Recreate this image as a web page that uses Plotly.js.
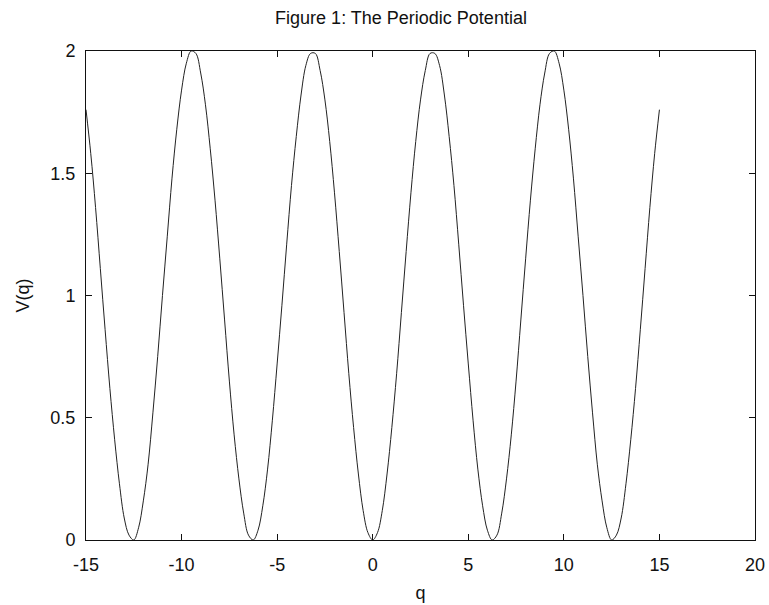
<!DOCTYPE html>
<html>
<head>
<meta charset="utf-8">
<script src="https://cdn.plot.ly/plotly-3.0.1.min.js"></script>
<style>
  html, body { margin: 0; padding: 0; background: #ffffff; }
  #chart { width: 769px; height: 605px; }
</style>
</head>
<body>
<div id="chart"></div>
<script>
// Sampled points of the periodic potential V(q), every 0.25 in q
const q = [
  -15, -14.75, -14.5, -14.25, -14, -13.75, -13.5, -13.25, -13, -12.75,
  -12.5, -12.25, -12, -11.75, -11.5, -11.25, -11, -10.75, -10.5, -10.25,
  -10, -9.75, -9.5, -9.25, -9, -8.75, -8.5, -8.25, -8, -7.75,
  -7.5, -7.25, -7, -6.75, -6.5, -6.25, -6, -5.75, -5.5, -5.25,
  -5, -4.75, -4.5, -4.25, -4, -3.75, -3.5, -3.25, -3, -2.75,
  -2.5, -2.25, -2, -1.75, -1.5, -1.25, -1, -0.75, -0.5, -0.25,
  0,
  0.25, 0.5, 0.75, 1, 1.25, 1.5, 1.75, 2, 2.25, 2.5,
  2.75, 3, 3.25, 3.5, 3.75, 4, 4.25, 4.5, 4.75, 5,
  5.25, 5.5, 5.75, 6, 6.25, 6.5, 6.75, 7, 7.25, 7.5,
  7.75, 8, 8.25, 8.5, 8.75, 9, 9.25, 9.5, 9.75, 10,
  10.25, 10.5, 10.75, 11, 11.25, 11.5, 11.75, 12, 12.25, 12.5,
  12.75, 13, 13.25, 13.5, 13.75, 14, 14.25, 14.5, 14.75, 15
];
const V = [
  1.76, 1.58, 1.36, 1.11, 0.86, 0.62, 0.41, 0.23, 0.09, 0.02,
  0.00, 0.05, 0.16, 0.31, 0.52, 0.75, 1.00, 1.24, 1.48, 1.68,
  1.84, 1.95, 2.00, 1.99, 1.91, 1.78, 1.60, 1.39, 1.15, 0.90,
  0.65, 0.43, 0.25, 0.11, 0.02, 0.00, 0.04, 0.14, 0.29, 0.49,
  0.72, 0.96, 1.21, 1.45, 1.65, 1.82, 1.94, 1.99, 1.99, 1.92,
  1.80, 1.63, 1.42, 1.18, 0.93, 0.68, 0.46, 0.27, 0.12, 0.03,
  0.00,
  0.03, 0.12, 0.27, 0.46, 0.68, 0.93, 1.18, 1.42, 1.63, 1.80,
  1.92, 1.99, 1.99, 1.94, 1.82, 1.65, 1.45, 1.21, 0.96, 0.72,
  0.49, 0.29, 0.14, 0.04, 0.00, 0.02, 0.11, 0.25, 0.43, 0.65,
  0.90, 1.15, 1.39, 1.60, 1.78, 1.91, 1.99, 2.00, 1.95, 1.84,
  1.68, 1.48, 1.24, 1.00, 0.75, 0.52, 0.31, 0.16, 0.05, 0.00,
  0.02, 0.09, 0.23, 0.41, 0.62, 0.86, 1.11, 1.36, 1.58, 1.76
];

const xTicks = [-15, -10, -5, 0, 5, 10, 15, 20];
const yTicks = [0, 0.5, 1, 1.5, 2];

const font = 'Liberation Sans, Arial, sans-serif';

const trace = {
  x: q,
  y: V,
  type: 'scatter',
  mode: 'lines',
  line: { color: '#222222', width: 1, shape: 'spline', smoothing: 1 },
  hoverinfo: 'x+y'
};

const axisCommon = {
  showgrid: false,
  zeroline: false,
  showline: true,
  linecolor: '#111111',
  linewidth: 1,
  mirror: 'ticks',
  ticks: 'inside',
  ticklen: 6,
  tickwidth: 1,
  tickcolor: '#111111',
  tickfont: { family: font, size: 18, color: '#111111' }
};

const layout = {
  width: 769,
  height: 605,
  paper_bgcolor: '#ffffff',
  plot_bgcolor: '#ffffff',
  margin: { l: 86, r: 14, t: 51, b: 65 },
  showlegend: false,
  title: {
    text: 'Figure 1: The Periodic Potential',
    font: { family: font, size: 18, color: '#111111' },
    x: 401 / 769,
    xref: 'container',
    xanchor: 'center',
    y: 1 - 18 / 605,
    yref: 'container',
    yanchor: 'middle'
  },
  xaxis: Object.assign({}, axisCommon, {
    range: [-15, 20],
    tickvals: xTicks,
    ticktext: xTicks.map(String),
    ticklabelstandoff: 8,
    title: { text: 'q', font: { family: font, size: 18, color: '#111111' }, standoff: 12 }
  }),
  yaxis: Object.assign({}, axisCommon, {
    range: [0, 2],
    tickvals: yTicks,
    ticktext: yTicks.map(String),
    ticklabelstandoff: 6,
    title: { text: 'V(q)', font: { family: font, size: 18, color: '#111111' }, standoff: 16 }
  })
};

Plotly.newPlot('chart', [trace], layout, { staticPlot: true, displayModeBar: false });
</script>
</body>
</html>
